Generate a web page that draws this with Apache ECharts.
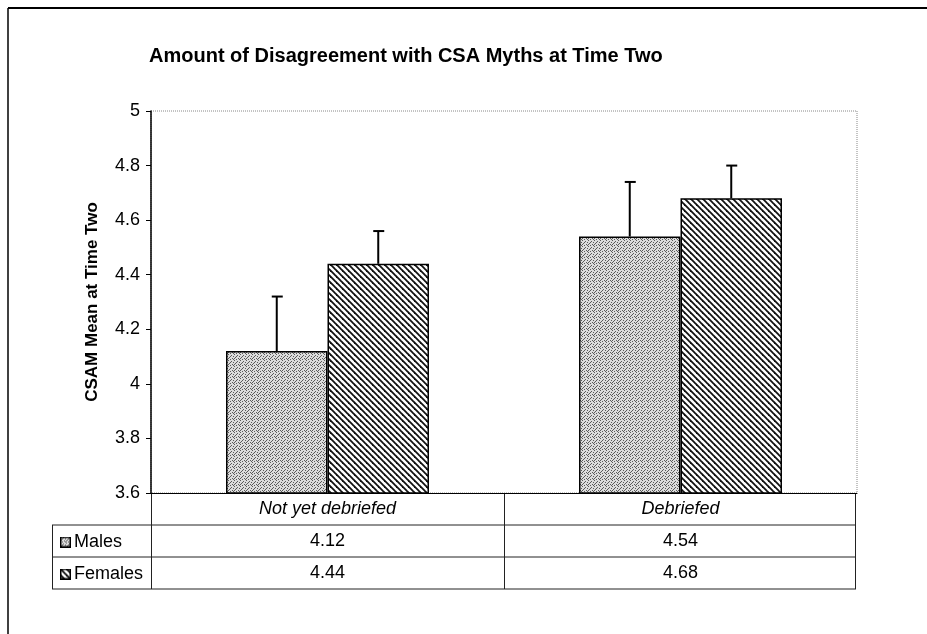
<!DOCTYPE html>
<html>
<head>
<meta charset="utf-8">
<script src="https://cdn.jsdelivr.net/npm/echarts@6/dist/echarts.min.js"></script>
<style>
  html, body { margin: 0; padding: 0; background: #fff; }
  #chart { width: 927px; height: 634px; }
</style>
</head>
<body>
<div id="chart"></div>
<script>
const categories = ['Not yet debriefed', 'Debriefed']
const maleValues = [4.12, 4.54]
const femaleValues = [4.44, 4.68]
const maleErrors = [0.2, 0.2]
const femaleErrors = [0.12, 0.12]
const yTicks = { min: 3.6, max: 5, interval: 0.2 }

const FONT = 'Liberation Sans, Arial, sans-serif'

// stippled grey fill for the males bars
const makeStipple = () => {
  const c = document.createElement('canvas')
  c.width = 6
  c.height = 6
  const ctx = c.getContext('2d')
  ctx.fillStyle = '#dcdcdc'
  ctx.fillRect(0, 0, 6, 6)
  ctx.fillStyle = '#5a5a5a'
  const dots = [[0, 0], [3, 1], [5, 2], [1, 3], [4, 4], [2, 5], [0, 4], [5, 5], [2, 2]]
  dots.forEach(d => ctx.fillRect(d[0], d[1], 1, 1))
  return c
}

// diagonal hatch for the females bars
const makeHatch = () => {
  const c = document.createElement('canvas')
  c.width = 6
  c.height = 6
  const ctx = c.getContext('2d')
  ctx.fillStyle = '#fff'
  ctx.fillRect(0, 0, 6, 6)
  ctx.strokeStyle = '#111'
  ctx.lineWidth = 1.8
  ;[-6, 0, 6].forEach(o => {
    ctx.beginPath()
    ctx.moveTo(o - 1, -1)
    ctx.lineTo(o + 7, 7)
    ctx.stroke()
  })
  return c
}

const makeIcon = (pattern) => {
  const c = document.createElement('canvas')
  c.width = 11
  c.height = 11
  const ctx = c.getContext('2d')
  ctx.fillStyle = ctx.createPattern(pattern, 'repeat')
  ctx.fillRect(0, 0, 11, 11)
  ctx.strokeStyle = '#000'
  ctx.lineWidth = 1.5
  ctx.strokeRect(0.75, 0.75, 9.5, 9.5)
  return c.toDataURL()
}

const stipple = makeStipple()
const hatch = makeHatch()

const chart = echarts.init(document.getElementById('chart'))

const gapRatio = 0.425

const errorRender = (side) => (params, api) => {
  const idx = api.value(0)
  const val = api.value(1)
  const err = api.value(2)
  const base = api.coord([idx, val])
  const top = api.coord([idx, val + err])
  const catW = api.size([1, 0])[0]
  const bw = catW * (1 - gapRatio) / 2
  const x = base[0] + side * bw / 2
  const style = { stroke: '#000', lineWidth: 2 }
  return {
    type: 'group',
    children: [
      { type: 'line', shape: { x1: x, y1: base[1], x2: x, y2: top[1] }, style },
      { type: 'line', shape: { x1: x - 5, y1: top[1], x2: x + 6, y2: top[1] }, style }
    ]
  }
}

const tableLine = (x1, y1, x2, y2) => ({
  type: 'line',
  shape: { x1, y1, x2, y2 },
  style: { stroke: '#222', lineWidth: 1 },
  silent: true
})

const option = {
  animation: false,
  backgroundColor: '#fff',
  title: {
    text: 'Amount of Disagreement with CSA Myths at Time Two',
    left: 144,
    top: 41,
    textStyle: { fontFamily: FONT, fontSize: 20, fontWeight: 'bold', color: '#000' }
  },
  legend: {
    data: [
      { name: 'Males', icon: 'image://' + makeIcon(stipple) },
      { name: 'Females', icon: 'image://' + makeIcon(hatch) }
    ],
    orient: 'vertical',
    left: 55,
    top: 528,
    itemWidth: 11,
    itemHeight: 11,
    itemGap: 14,
    selectedMode: false,
    textStyle: { fontFamily: FONT, fontSize: 18, color: '#000', padding: [0, 0, 0, -2] }
  },
  grid: {
    left: 151,
    right: 70,
    top: 111,
    bottom: 141,
    show: true,
    borderColor: '#888',
    borderWidth: 1,
    borderType: 'dotted'
  },
  xAxis: {
    type: 'category',
    data: categories,
    axisLine: { lineStyle: { color: '#000', width: 1 } },
    axisTick: { show: false },
    axisLabel: {
      margin: 0,
      interval: 0,
      formatter: (value, index) =>
        `{c|${value}}\n{v|${maleValues[index].toFixed(2)}}\n{v|${femaleValues[index].toFixed(2)}}`,
      rich: {
        c: { fontFamily: FONT, fontSize: 18, fontStyle: 'italic', color: '#000', lineHeight: 32 },
        v: { fontFamily: FONT, fontSize: 18, color: '#000', lineHeight: 32 }
      }
    }
  },
  yAxis: {
    type: 'value',
    min: yTicks.min,
    max: yTicks.max,
    interval: yTicks.interval,
    name: 'CSAM Mean at Time Two',
    nameLocation: 'middle',
    nameRotate: 90,
    nameGap: 50,
    nameTextStyle: { fontFamily: FONT, fontSize: 17, fontWeight: 'bold', color: '#000' },
    axisLine: { show: true, lineStyle: { color: '#000', width: 1.5 } },
    axisTick: { show: true, length: 5, lineStyle: { color: '#000' } },
    axisLabel: {
      margin: 11,
      fontFamily: FONT,
      fontSize: 18,
      color: '#000',
      formatter: v => String(Math.round(v * 10) / 10)
    },
    splitLine: { show: false }
  },
  series: [
    {
      name: 'Males',
      type: 'bar',
      data: maleValues,
      barGap: '0%',
      barCategoryGap: (gapRatio * 100) + '%',
      itemStyle: { color: { image: stipple, repeat: 'repeat' }, borderColor: '#000', borderWidth: 1.5 }
    },
    {
      name: 'Females',
      type: 'bar',
      data: femaleValues,
      itemStyle: { color: { image: hatch, repeat: 'repeat' }, borderColor: '#000', borderWidth: 1.5 }
    },
    {
      type: 'custom',
      z: 5,
      renderItem: errorRender(-1),
      encode: { x: 0, y: 1 },
      data: maleValues.map((v, i) => [i, v, maleErrors[i]])
    },
    {
      type: 'custom',
      z: 5,
      renderItem: errorRender(1),
      encode: { x: 0, y: 1 },
      data: femaleValues.map((v, i) => [i, v, femaleErrors[i]])
    }
  ],
  graphic: [
    // outer frame
    { type: 'line', shape: { x1: 8, y1: 8, x2: 927, y2: 8 }, style: { stroke: '#000', lineWidth: 2 }, silent: true },
    { type: 'line', shape: { x1: 8, y1: 8, x2: 8, y2: 634 }, style: { stroke: '#000', lineWidth: 1.5 }, silent: true },
    // data table grid
    tableLine(52, 525, 856, 525),
    tableLine(52, 557, 856, 557),
    tableLine(52, 589, 856, 589),
    tableLine(52.5, 525, 52.5, 589),
    tableLine(151.5, 493, 151.5, 589),
    tableLine(504.5, 493, 504.5, 589),
    tableLine(855.5, 493, 855.5, 589)
  ]
}

chart.setOption(option)
window.addEventListener('resize', () => chart.resize())
</script>
</body>
</html>
